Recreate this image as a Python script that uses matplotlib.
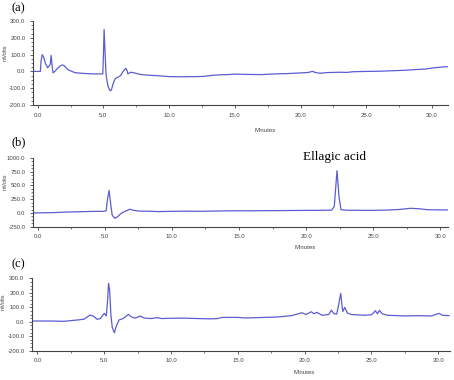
import numpy as np
import matplotlib
matplotlib.use("Agg")
import matplotlib.pyplot as plt
from matplotlib.ticker import MultipleLocator, FormatStrFormatter

# ---------------- chromatogram (a) ----------------#
t_a = [-0.35, 0.2, 0.25, 0.34, 0.45, 0.6, 0.75, 0.95, 1.02, 1.1, 1.16, 1.3, 1.5, 1.7,
       1.87, 2.0, 2.3, 2.6, 2.85, 3.5, 4.0, 4.5, 4.95, 5.0, 5.05, 5.12, 5.2, 5.35, 5.5,
       5.6, 5.75, 5.9, 6.1, 6.3, 6.5, 6.7, 6.8, 6.86, 7.0, 7.1, 7.4, 7.8, 8.3, 9.0, 9.5,
       10, 11, 12, 12.6, 13.0, 13.5, 14, 14.5, 15, 16, 17, 18, 19, 20, 20.6, 20.9, 21.2, 21.5,
       22, 23, 23.5, 24, 25, 26, 27, 28, 29, 29.5, 30, 30.5, 31, 31.25]
mv_a = [0, 0, 60, 100, 85, 45, 22, 40, 95, 30, -8, 0, 18, 32,
        38, 35, 10, 0, -8, -12, -14, -15, -15, 100, 250, 120, -20, -90, -115,
        -112, -70, -42, -35, -25, 0, 18, 5, -15, -8, -5, -10, -18, -22, -25, -28,
        -31, -32, -31, -30, -26, -22, -20, -19, -16, -18, -19, -15, -13, -9, -6, 0, -8, -11,
        -7, -5, -6, -2, 0, 1, 4, 7, 12, 14, 20, 24, 28, 27]

# ---------------- chromatogram (b) ----------------#
t_b = [-0.37, 1, 2, 3, 4, 4.9, 5.1, 5.2, 5.32, 5.42, 5.55, 5.75, 5.95, 6.2, 6.5, 6.87,
       7.1, 7.5, 8.5, 9, 10, 11, 12, 13, 14, 15, 16, 17, 18, 19, 20, 21, 21.9, 22.1,
       22.3, 22.45, 22.6, 23, 24, 25, 26, 27, 27.8, 28.5, 29, 30, 30.6]
mv_b = [0, 5, 15, 22, 28, 30, 40, 250, 410, 200, -40, -97, -70, -10, 30, 68,
        50, 35, 30, 25, 30, 33, 30, 34, 38, 40, 40, 42, 43, 45, 47, 48, 52, 120,
        770, 300, 60, 50, 48, 48, 52, 65, 85, 75, 60, 55, 55]

# ---------------- chromatogram (c) ----------------#
t_c = [-0.4, 1, 2, 2.5, 3, 3.5, 3.75, 3.93, 4.2, 4.46, 4.7, 5.0, 5.15, 5.25, 5.32, 5.4,
       5.5, 5.6, 5.75, 5.9, 6.1, 6.4, 6.6, 6.8, 7.0, 7.3, 7.7, 8.0, 8.5, 9.0, 9.3, 10,
       11, 12, 13, 13.5, 13.8, 15, 15.5, 16, 17, 18, 19, 19.8, 20.1, 20.5, 20.7, 20.9,
       21.3, 21.8, 22.0, 22.2, 22.4, 22.55, 22.7, 22.85, 23.0, 23.2, 23.5, 24.5, 25.0,
       25.3, 25.45, 25.6, 25.8, 26.2, 27.5, 28.5, 29.5, 30.05, 30.3, 30.8]
mv_c = [5, 5, 3, 8, 12, 18, 35, 46, 38, 17, 22, 58, 40, 150, 265, 220,
        40, -40, -76, -30, 12, 22, 35, 51, 35, 25, 39, 25, 22, 28, 22, 24,
        25, 22, 20, 22, 30, 30, 26, 27, 30, 33, 42, 62, 50, 69, 55, 65,
        45, 50, 80, 55, 53, 120, 196, 70, 99, 60, 50, 45, 48,
        76, 55, 79, 55, 45, 40, 42, 40, 58, 45, 42]

line_col = "#5c5cd4"
plt.rcParams['font.family'] = ['Liberation Sans', 'DejaVu Sans']

fig = plt.figure(figsize=(4.54, 3.8), dpi=100)

panels = [
    # rect, data, xlim, ylim, ystep, xlabel x, ylabel y
    ([0.0727, 0.7237, 0.914, 0.221], t_a, mv_a, (-0.36, 31.22), (-200, 300), 100, 0.56, 0.62),
    ([0.0727, 0.4034, 0.914, 0.1808], t_b, mv_b, (-0.35, 30.57), (-250, 1000), 250, 0.655, 0.66),
    ([0.0705, 0.0771, 0.9207, 0.1905], t_c, mv_c, (-0.41, 30.88), (-200, 300), 100, 0.65, 0.67),
]

axes = []
for rect, t, mv, xl, yl, ystep, xlab_x, ylab_y in panels:
    ax = fig.add_axes(rect)
    ax.plot(t, mv, color=line_col, lw=0.9)
    ax.set_xlim(*xl)
    ax.set_ylim(*yl)
    ax.xaxis.set_major_locator(MultipleLocator(5))
    ax.xaxis.set_minor_locator(MultipleLocator(2.5))
    ax.yaxis.set_major_locator(MultipleLocator(ystep))
    ax.yaxis.set_minor_locator(MultipleLocator(ystep / 4))
    ax.xaxis.set_major_formatter(FormatStrFormatter('%.1f'))
    ax.yaxis.set_major_formatter(FormatStrFormatter('%.1f'))
    for s in ['top', 'right']:
        ax.spines[s].set_visible(False)
    for s in ['left', 'bottom']:
        ax.spines[s].set_color('#444444')
        ax.spines[s].set_linewidth(0.8)
    ax.tick_params(which='major', length=2.5, width=0.6, colors='#444444',
                   labelsize=4.3, pad=3)
    ax.tick_params(which='minor', length=1.3, width=0.5, colors='#444444')
    ax.set_xlabel('Minutes', fontsize=4.3, color='#444444')
    ax.xaxis.set_label_coords(xlab_x, -0.27)
    ax.set_ylabel('mVolts', fontsize=4, color='#444444')
    ax.yaxis.set_label_coords(-0.062, ylab_y)
    axes.append(ax)

axes[1].text(22.1, 1010, 'Ellagic acid', ha='center', va='center',
             fontsize=9.5, family='Liberation Serif', clip_on=False)

for lab, ypx in [('(a)', 8), ('(b)', 142), ('(c)', 264)]:
    fig.text(11 / 454, 1 - ypx / 380, lab, fontsize=9, family='Liberation Serif',
             ha='left', va='center')

fig.savefig('out.png', dpi=100)
